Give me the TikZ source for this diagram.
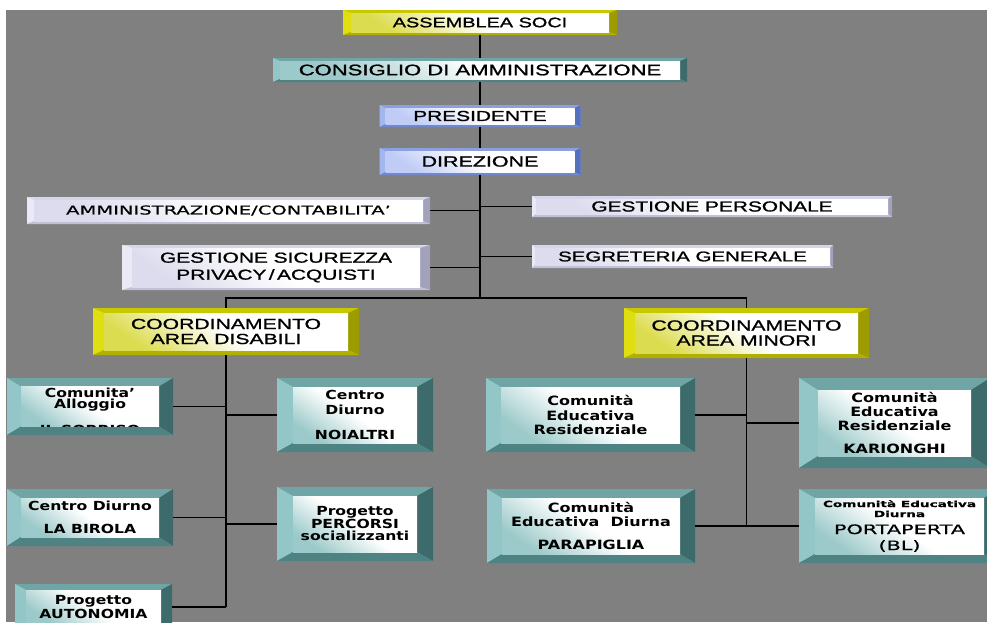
\documentclass[tikz,border=0pt]{standalone}
\usepackage{fontspec}
\setmainfont{Liberation Sans}
\newfontfamily\topfont[FakeStretch=1.45,FakeBold=1.2]{Liberation Sans}
\newfontfamily\pixfont[FakeStretch=1.6,FakeBold=0.6]{DejaVu Sans}
\newfontfamily\lowfont[FakeStretch=1.25]{DejaVu Sans}
\usetikzlibrary{calc}

\definecolor{bggray}{HTML}{808080}
\definecolor{tealT}{HTML}{6FA5A5}
\definecolor{tealL}{HTML}{93C6C6}
\definecolor{tealR}{HTML}{3D6A6A}
\definecolor{tealB}{HTML}{4F8383}
\definecolor{tealF}{HTML}{9CC9C9}
\definecolor{yelT}{HTML}{C8C800}
\definecolor{yelL}{HTML}{DEDE10}
\definecolor{yelR}{HTML}{9C9C00}
\definecolor{yelB}{HTML}{B0B000}
\definecolor{yelF}{HTML}{DCDC50}
\definecolor{bluT}{HTML}{8CA0E0}
\definecolor{bluL}{HTML}{A4B6F0}
\definecolor{bluR}{HTML}{5670BC}
\definecolor{bluB}{HTML}{7088D0}
\definecolor{bluF}{HTML}{C0CCF6}
\definecolor{lavT}{HTML}{D6D6EA}
\definecolor{lavL}{HTML}{EAEAF6}
\definecolor{lavR}{HTML}{A2A2BC}
\definecolor{lavB}{HTML}{C0C0D6}
\definecolor{lavF}{HTML}{DCDCEE}

\tikzset{
  bvx/.store in=\bvx, bvy/.store in=\bvy,
  bvt/.store in=\bvt, bvl/.store in=\bvl, bvr/.store in=\bvr,
  bvb/.store in=\bvb, bvf/.store in=\bvf,
  bvx=15pt, bvy=9pt,
  tealbox/.style={bvt=tealT, bvl=tealL, bvr=tealR, bvb=tealB, bvf=tealF},
  yelbox/.style={bvt=yelT, bvl=yelL, bvr=yelR, bvb=yelB, bvf=yelF},
  blubox/.style={bvt=bluT, bvl=bluL, bvr=bluR, bvb=bluB, bvf=bluF},
  lavbox/.style={bvt=lavT, bvl=lavL, bvr=lavR, bvb=lavB, bvf=lavF},
  tealbox,
  bevelbox/.style={rectangle, inner sep=0pt, outer sep=0pt, align=center, text=black,
    path picture={
      \coordinate (bsw) at (path picture bounding box.south west);
      \coordinate (bne) at (path picture bounding box.north east);
      \coordinate (bnw) at (path picture bounding box.north west);
      \coordinate (bse) at (path picture bounding box.south east);
      \coordinate (isw) at ([shift={(\bvx,\bvy)}]bsw);
      \coordinate (ine) at ([shift={(-\bvx,-\bvy)}]bne);
      \coordinate (inw) at ([shift={(\bvx,-\bvy)}]bnw);
      \coordinate (ise) at ([shift={(-\bvx,\bvy)}]bse);
      \fill[\bvt] (bsw) rectangle (bne);
      \fill[\bvl] (bsw) -- (bnw) -- (inw) -- (isw) -- cycle;
      \fill[\bvr] (bse) -- (bne) -- (ine) -- (ise) -- cycle;
      \fill[\bvb] (bsw) -- (bse) -- (ise) -- (isw) -- cycle;
      \shade[top color=white, bottom color=\bvf, middle color=white, shading angle=-35] (isw) rectangle (ine);
    }},
  topbox/.style={bevelbox, bvy=3pt},
  lowbox/.style={bevelbox, tealbox, minimum width=156pt, minimum height=74pt},
  conn/.style={draw=black, line width=1.4pt}
}

\begin{document}
\begin{tikzpicture}[x=1pt,y=-1pt]
  \useasboundingbox (0,0) rectangle (987,622);
  \clip (0,0) rectangle (987,622);
  \fill[white] (0,0) rectangle (987,622);
  \fill[bggray] (6,10) rectangle (987,622);

  % vertici
  \node[topbox, yelbox, bvx=8pt, minimum width=274pt, minimum height=25pt,
    font=\fontsize{13.7}{15}\topfont] (soci) at (480,22.5) {ASSEMBLEA SOCI};
  \node[topbox, tealbox, bvx=7pt, minimum width=414pt, minimum height=24pt,
    font=\fontsize{15.2}{16}\topfont] (cda) at (480,70) {CONSIGLIO DI AMMINISTRAZIONE};
  \node[topbox, blubox, bvx=6pt, minimum width=201pt, minimum height=22pt,
    font=\fontsize{14.4}{15}\topfont] (pres) at (480,116) {PRESIDENTE};
  \node[topbox, blubox, bvx=6pt, minimum width=201pt, minimum height=27pt,
    font=\fontsize{14.8}{15}\topfont] (dir) at (480,161.5) {DIREZIONE};

  % uffici di staff
  \node[topbox, lavbox, bvx=7pt, minimum width=403pt, minimum height=27pt,
    font=\fontsize{12.2}{14}\pixfont] (amm) at (228.5,210.5) {AMMINISTRAZIONE/CONTABILITA’};
  \node[topbox, lavbox, bvx=4pt, minimum width=360pt, minimum height=21pt,
    font=\fontsize{14.4}{15}\topfont] (pers) at (712,206.5) {GESTIONE PERSONALE};
  \node[topbox, lavbox, bvx=10pt, minimum width=308pt, minimum height=45pt,
    font=\fontsize{14.4}{17}\topfont] (sic) at (276,267.5) {GESTIONE SICUREZZA\\PRIVACY\,/\,ACQUISTI};
  \node[topbox, lavbox, bvx=3pt, minimum width=301pt, minimum height=23pt,
    font=\fontsize{14.1}{15}\topfont] (segr) at (682.5,256.5) {SEGRETERIA GENERALE};

  % coordinamenti
  \node[bevelbox, yelbox, bvx=11pt, bvy=5pt, minimum width=266pt, minimum height=47pt,
    font=\fontsize{14.6}{15}\topfont] (disab) at (226,331.5) {COORDINAMENTO\\AREA DISABILI};
  \node[bevelbox, yelbox, bvx=11pt, bvy=5pt, minimum width=245pt, minimum height=50pt,
    font=\fontsize{14.6}{15}\topfont] (minori) at (746.5,333) {COORDINAMENTO\\AREA MINORI};

  % area disabili
  \node[lowbox, bvx=14pt, bvy=8.5pt, minimum width=166pt, minimum height=57pt] (alloggio) at (90,406.5) {};
  \begin{scope}
    \clip ([shift={(14pt,8.5pt)}]alloggio.south west) rectangle ([shift={(-14pt,-8.5pt)}]alloggio.north east);
    \node[align=center, font=\fontsize{12.5}{11}\lowfont\bfseries] (sorriso) at (90,411) {Comunita’\\Alloggio\\[13pt]IL SORRISO};
  \end{scope}
  \node[lowbox, bvx=16pt, font=\fontsize{12.5}{15}\lowfont\bfseries] (noialtri) at (355,415) {Centro\\Diurno\\[10pt]NOIALTRI};
  \node[lowbox, bvx=14pt, minimum width=166pt, minimum height=57pt,
    font=\fontsize{12.5}{11}\lowfont\bfseries] (birola) at (90,517.5) {Centro Diurno\\[12pt]LA BIROLA};
  \node[lowbox, bvx=16pt, font=\fontsize{12.5}{12.5}\lowfont\bfseries] (percorsi) at (355,524) {Progetto\\PERCORSI\\socializzanti};
  \node[lowbox, bvx=11pt, bvy=6pt, minimum width=157pt, minimum height=46pt,
    font=\fontsize{12.5}{14.5}\lowfont\bfseries] (autonomia) at (93.5,607) {Progetto\\AUTONOMIA};

  % area minori
  \node[lowbox, minimum width=209pt, font=\fontsize{12.8}{14.5}\lowfont\bfseries] (resid) at (590.5,415) {Comunità\\Educativa\\Residenziale};
  \node[lowbox, minimum width=208pt, font=\fontsize{12.8}{14}\lowfont\bfseries] (parap) at (591,526) {Comunità\\Educativa~~Diurna\\[9pt]PARAPIGLIA};
  \node[lowbox, bvx=19pt, bvy=12pt, minimum width=191pt, minimum height=90pt,
    font=\fontsize{12.8}{14}\lowfont\bfseries] (kario) at (894.5,423) {Comunità\\Educativa\\Residenziale\\[9pt]KARIONGHI};
  \node[lowbox, bvx=16pt, minimum width=201pt, font=\fontsize{8.5}{10}\pixfont\bfseries] (porta) at (899.5,526)
    {Comunità Educativa\\Diurna\\[7pt]{\fontsize{13}{14}\pixfont\mdseries PORTAPERTA}\\[5pt]{\fontsize{13}{14}\pixfont\mdseries (BL)}};

  % collegamenti
  \coordinate (bus) at (480,298);
  \draw[conn] (soci.south) -- (cda.north);
  \draw[conn] (cda.south) -- (pres.north);
  \draw[conn] (pres.south) -- (dir.north);
  \draw[conn] (dir.south) -- (bus);
  \draw[conn] (amm.east) -- (amm.east -| bus);
  \draw[conn] (sic.east) -- (sic.east -| bus);
  \draw[conn] (pers.west) -- (pers.west -| bus);
  \draw[conn] (segr.west) -- (segr.west -| bus);
  \draw[conn] (disab.north) |- (bus) -| (minori.north);
  \draw[conn] (disab.south) -- (disab.south |- autonomia.east);
  \draw[conn] (minori.south) -- (minori.south |- porta.west);
  \foreach \b in {alloggio,birola,autonomia}
    \draw[conn] (\b.east) -- (\b.east -| disab.south);
  \foreach \b in {noialtri,percorsi}
    \draw[conn] (\b.west) -- (\b.west -| disab.south);
  \foreach \b in {resid,parap}
    \draw[conn] (\b.east) -- (\b.east -| minori.south);
  \foreach \b in {kario,porta}
    \draw[conn] (\b.west) -- (\b.west -| minori.south);
\end{tikzpicture}
\end{document}
